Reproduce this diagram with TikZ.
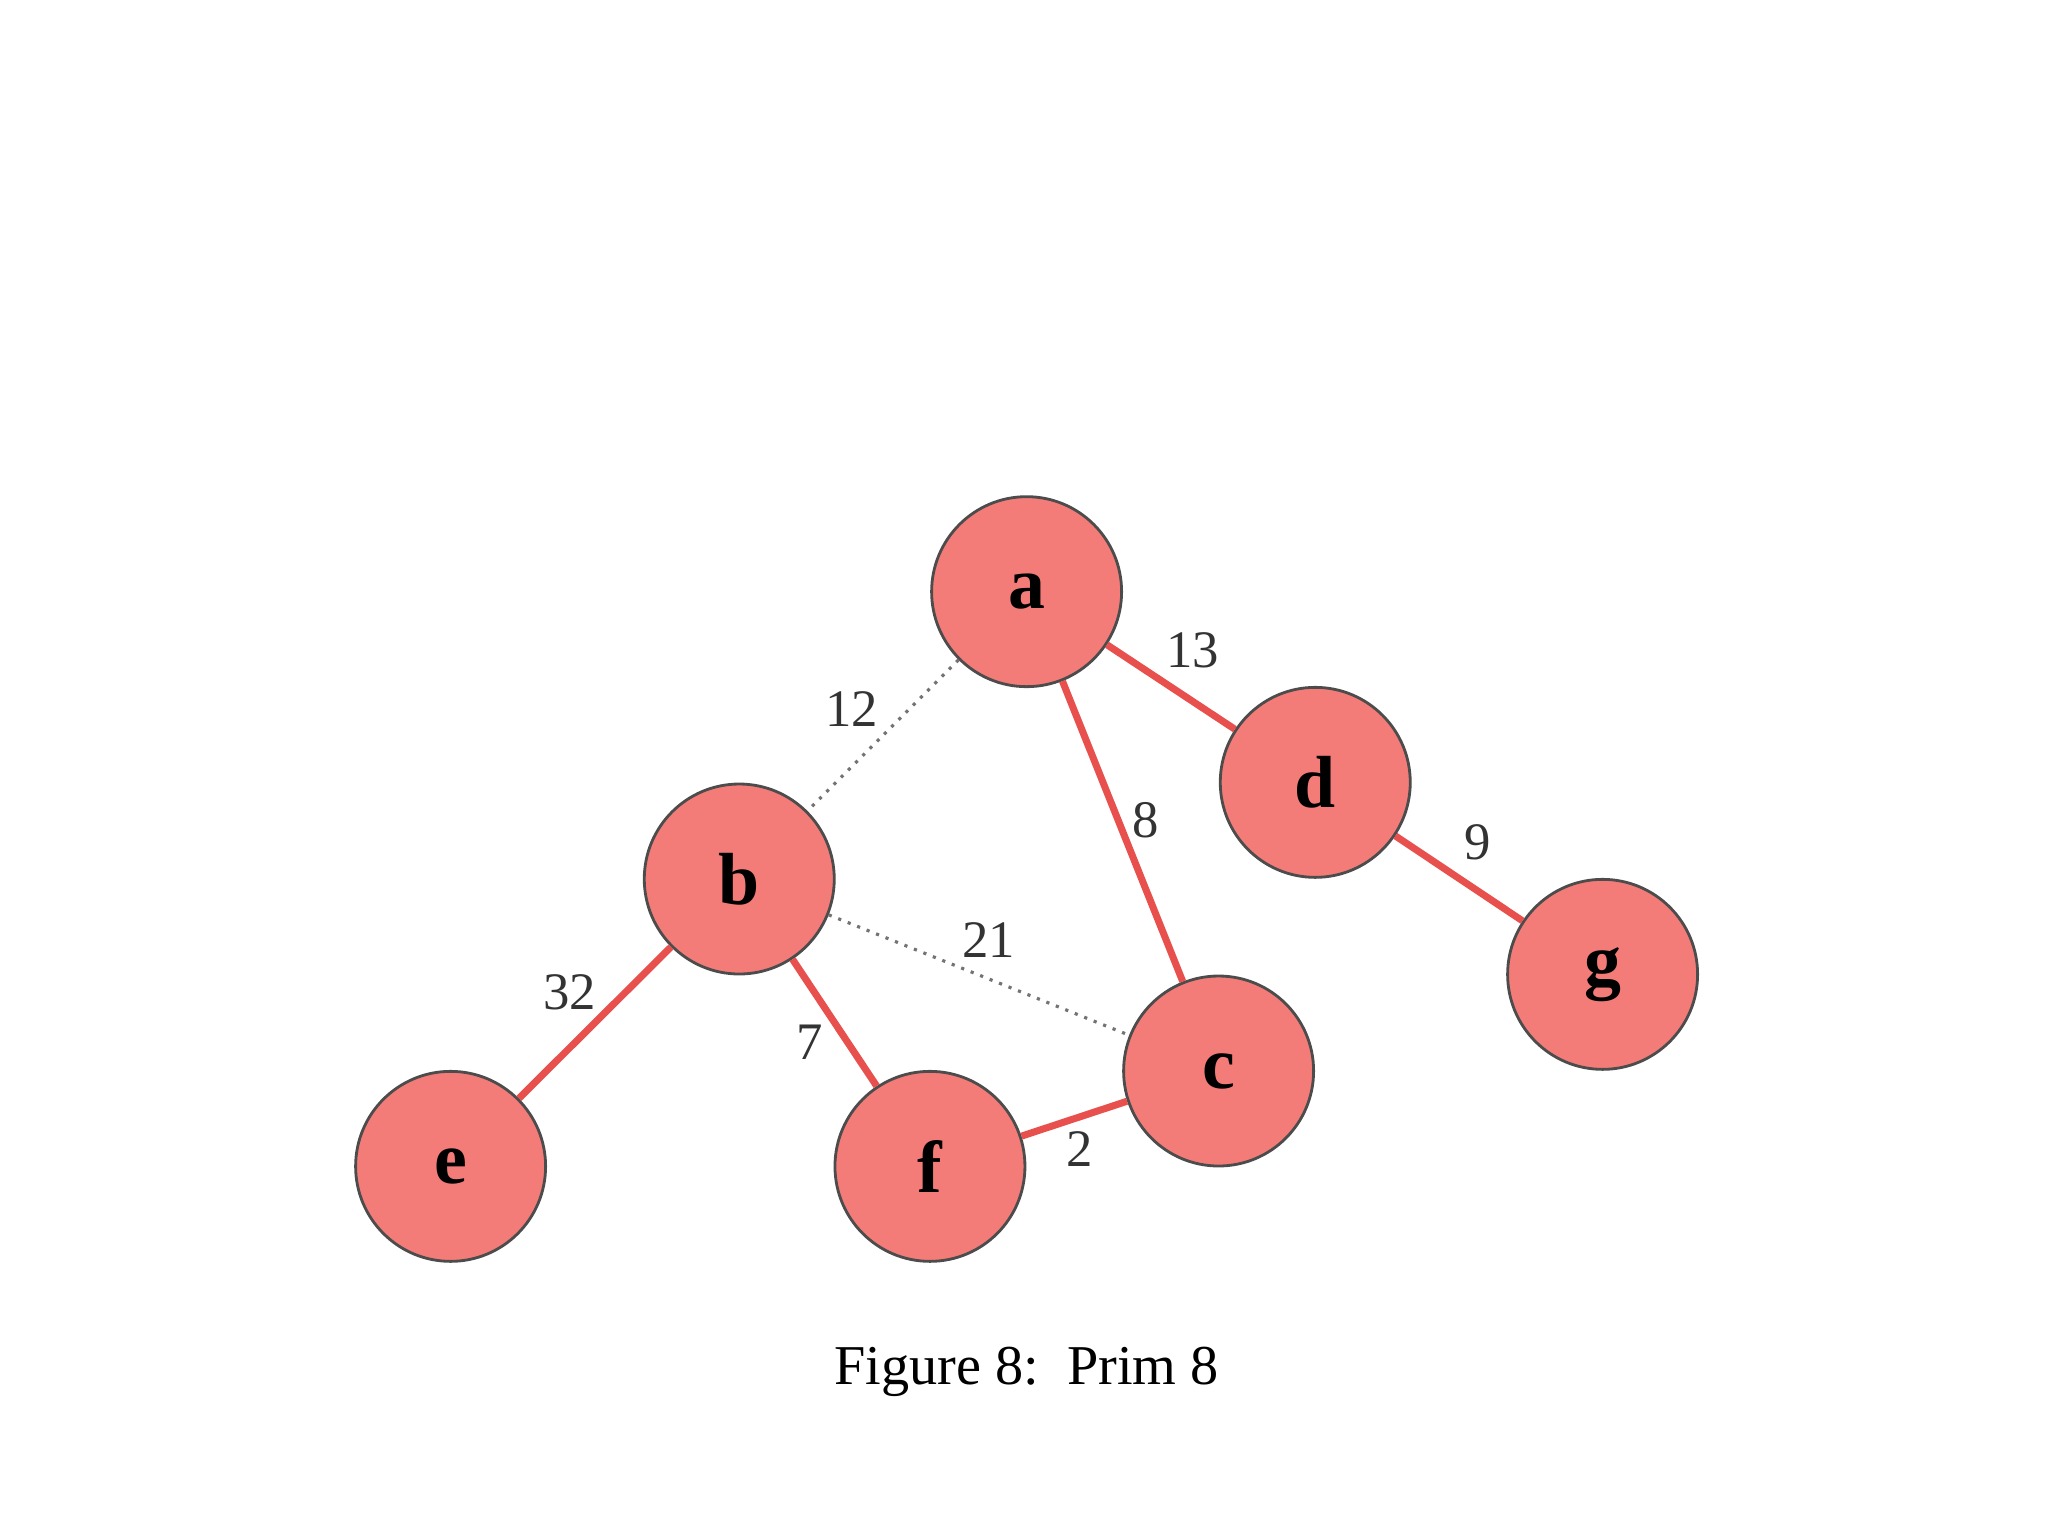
\documentclass[tikz,border=0pt]{standalone}
\usepackage{fontspec}
\setmainfont{Liberation Serif}
\begin{document}
\begin{tikzpicture}[x=0.01306cm,y=-0.01306cm,
  vert/.style={circle,draw=black!70,fill={rgb,255:red,244;green,124;blue,120},line width=0.8pt,minimum size=1.9cm,inner sep=0pt,font=\fontsize{21}{24}\selectfont\bfseries},
  tree/.style={draw={rgb,255:red,232;green,80;blue,78},line width=2pt},
  nontree/.style={draw=black!55,dotted,line width=0.9pt},
  wt/.style={font=\fontsize{15}{18}\selectfont,text=black!80}]
\useasboundingbox (0,0) rectangle (1568,1176);
\node[vert] (a) at (786,453) {a};
\node[vert] (b) at (566,673) {b};
\node[vert] (c) at (933,820) {c};
\node[vert] (d) at (1007,599) {d};
\node[vert] (e) at (345,893) {e};
\node[vert] (f) at (712,893) {f};
\node[vert] (g) at (1227,746) {g};
\draw[nontree] (a) -- (b);
\draw[nontree] (b) -- (c);
\draw[tree] (a) -- (d);
\draw[tree] (a) -- (c);
\draw[tree] (d) -- (g);
\draw[tree] (b) -- (e);
\draw[tree] (b) -- (f);
\draw[tree] (f) -- (c);
\node[wt] (w12) at (652,543) {12};
\node[wt] (w13) at (913,498) {13};
\node[wt] (w8) at (877,628) {8};
\node[wt] (w9) at (1131,645) {9};
\node[wt] (w21) at (757,720) {21};
\node[wt] (w32) at (436,760) {32};
\node[wt] (w7) at (620,798) {7};
\node[wt] (w2) at (827,880) {2};
\node[font=\fontsize{16}{19}\selectfont] (cap) at (786,1050) {Figure 8:\ \ Prim 8};
\end{tikzpicture}
\end{document}
